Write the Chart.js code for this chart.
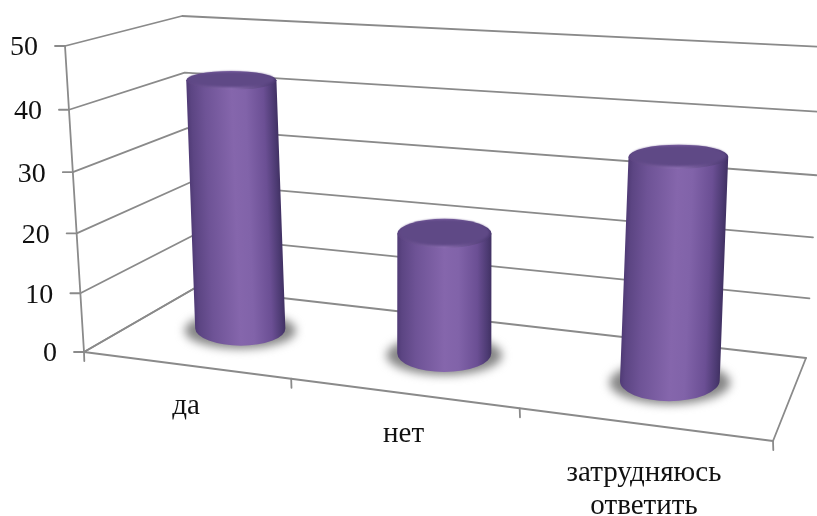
<!DOCTYPE html>
<html>
<head>
<meta charset="utf-8">
<style>
html,body{margin:0;padding:0;background:#fff;overflow:hidden}
canvas{display:block}
</style>
<script src="https://cdn.jsdelivr.net/npm/chart.js@4/dist/chart.umd.min.js"></script>
</head>
<body>
<canvas id="chart" width="817" height="516"></canvas>
<script>
// Survey answers
const categories = ['да', 'нет', ['затрудняюсь', 'ответить']];
const answers = [42.5, 20, 35];
const valueTicks = [0, 10, 20, 30, 40, 50];

// Corners of the 3D plot box on screen: F/B front/back, B/T bottom/top, L/R left/right
const BOX = {
  FBL: [84, 352], FBR: [773, 441], BBL: [195, 288], BBR: [806, 358],
  FTL: [65, 46],  FTR: [793, 80],  BTL: [182, 16],  BTR: [824, 47]
};
const WIDTH_PERSPECTIVE = 0.86;
const HEIGHT_PERSPECTIVE = 0.95;
const DEPTH_PERSPECTIVE = 1.22;
const BAR_DEPTH = 0.26;
const AXIS_COLOR = '#8a8a8a';
const AXIS_WIDTH = 1.8;
const FONT = '"Liberation Serif", "Times New Roman", serif';

const mix = (a, b, t) => [a[0] + (b[0] - a[0]) * t, a[1] + (b[1] - a[1]) * t];
const foreshorten = (s, k) => k * s / ((1 - s) + k * s);

// u: across the categories, v: up the value axis, w: from front to back, all 0..1
function project(u, v, w) {
  const tu = foreshorten(u, WIDTH_PERSPECTIVE);
  const tw = foreshorten(w, DEPTH_PERSPECTIVE);
  const tv = foreshorten(v, HEIGHT_PERSPECTIVE);
  const low = mix(mix(BOX.FBL, BOX.FBR, tu), mix(BOX.BBL, BOX.BBR, tu), tw);
  const high = mix(mix(BOX.FTL, BOX.FTR, tu), mix(BOX.BTL, BOX.BTR, tu), tw);
  return mix(low, high, tv);
}

function stroke(ctx, pts, width) {
  ctx.beginPath();
  pts.forEach((p, i) => i ? ctx.lineTo(p[0], p[1]) : ctx.moveTo(p[0], p[1]));
  ctx.lineWidth = width;
  ctx.stroke();
}

const box3d = {
  id: 'box3d',
  beforeDatasetsDraw(chart) {
    const { ctx, scales: { x, y } } = chart;
    const vOf = t => (y.bottom - y.getPixelForValue(t)) / (y.bottom - y.top);
    ctx.save();
    ctx.strokeStyle = AXIS_COLOR;
    ctx.lineCap = 'round';
    ctx.lineJoin = 'round';
    // Gridlines run along the side wall and then along the back wall
    y.ticks.forEach(t => {
      const v = vOf(t.value);
      const a = project(0, v, 0);
      stroke(ctx, [[a[0] - 10, a[1]], a, project(0, v, 1), project(1, v, 1)], AXIS_WIDTH);
    });
    stroke(ctx, [project(0, 0, 0), project(0, 1, 0)], AXIS_WIDTH);
    // Floor outline
    stroke(ctx, [project(0, 0, 1), project(0, 0, 0), project(1, 0, 0), project(1, 0, 1)], AXIS_WIDTH);
    // Category separators
    const n = x.getLabels().length;
    for (let i = 0; i <= n; i++) {
      const p = project(i / n, 0, 0);
      stroke(ctx, [p, [p[0] + 0.3, p[1] + 9]], AXIS_WIDTH);
    }
    ctx.restore();
  },
  afterDatasetsDraw(chart) {
    const { ctx, chartArea: area, scales: { x, y } } = chart;
    const bars = chart.getDatasetMeta(0).data;
    const shapes = bars.map(bar => {
      const u = (bar.x - area.left) / area.width;
      const half = bar.width / 2 / area.width;
      const v = (y.bottom - bar.y) / (y.bottom - y.top);
      const size = vv => {
        const l = project(u - half, vv, 0.5), r = project(u + half, vv, 0.5);
        const f = project(u, vv, 0.5 - BAR_DEPTH), b = project(u, vv, 0.5 + BAR_DEPTH);
        // Cylinder radius grows more slowly across the plot than the floor does
        return { c: [(l[0] + r[0]) / 2, (l[1] + r[1]) / 2], rx: (r[0] - l[0]) / 4 + 23.25, ry: (f[1] - b[1]) / 2 };
      };
      return { low: size(0), high: size(v) };
    });
    shapes.forEach(s => drawShadow(ctx, s));
    shapes.forEach(s => drawCylinder(ctx, s));
    drawLabels(ctx, x, y);
  }
};

function drawShadow(ctx, { low }) {
  ctx.save();
  ctx.filter = 'blur(5px)';
  ctx.fillStyle = '#858585';
  ctx.beginPath();
  ctx.ellipse(low.c[0], low.c[1] + 2, low.rx + 11, low.ry + 1, 0, 0, Math.PI * 2);
  ctx.fill();
  ctx.restore();
}

function drawCylinder(ctx, { low, high }) {
  const rx = (low.rx + high.rx) / 2;
  const shear = (high.c[0] - low.c[0]) / (high.c[1] - low.c[1]);
  ctx.save();
  // Shear so the shading follows the lean of the cylinder
  ctx.transform(1, 0, shear, 1, -shear * low.c[1], 0);
  const cx = low.c[0];
  const body = ctx.createLinearGradient(cx - rx, 0, cx + rx, 0);
  body.addColorStop(0, '#503b76');
  body.addColorStop(0.05, '#5c4583');
  body.addColorStop(0.2, '#6e5396');
  body.addColorStop(0.5, '#8566ac');
  body.addColorStop(0.65, '#8163a9');
  body.addColorStop(0.85, '#6b4f94');
  body.addColorStop(0.96, '#4c3a72');
  body.addColorStop(1, '#413163');
  ctx.fillStyle = body;
  ctx.beginPath();
  ctx.moveTo(cx - rx, high.c[1]);
  ctx.lineTo(cx - rx, low.c[1]);
  ctx.ellipse(cx, low.c[1], rx, low.ry, 0, Math.PI, 0, true);
  ctx.lineTo(cx + rx, high.c[1]);
  ctx.closePath();
  ctx.fill();

  // Top face: lighter bevelled rim round a darker disc
  const tx = cx, ty = high.c[1];
  const rim = ctx.createLinearGradient(tx - rx, 0, tx + rx, 0);
  rim.addColorStop(0, '#5a4380');
  rim.addColorStop(0.5, '#8a6cb0');
  rim.addColorStop(1, '#4a3870');
  ctx.fillStyle = rim;
  ctx.beginPath();
  ctx.ellipse(tx, ty, rx, high.ry, 0, 0, Math.PI * 2);
  ctx.fill();
  ctx.save();
  ctx.filter = 'blur(1px)';
  ctx.fillStyle = '#5f4986';
  ctx.beginPath();
  ctx.ellipse(tx, ty - 1, rx - 2, high.ry - 1.5, 0, 0, Math.PI * 2);
  ctx.fill();
  ctx.restore();
  ctx.restore();
}

function drawLabels(ctx, x, y) {
  ctx.save();
  ctx.fillStyle = '#111';
  ctx.font = '28px ' + FONT;
  ctx.textAlign = 'right';
  ctx.textBaseline = 'middle';
  y.ticks.forEach(t => {
    const v = (y.bottom - y.getPixelForValue(t.value)) / (y.bottom - y.top);
    const a = project(0, v, 0);
    ctx.fillText(String(t.value), a[0] - 27, a[1] + 2);
  });
  ctx.font = '29px ' + FONT;
  ctx.textAlign = 'center';
  ctx.textBaseline = 'alphabetic';
  const n = x.getLabels().length;
  x.getLabels().forEach((label, i) => {
    const p = project((i + 0.5) / n, 0, 0);
    const lines = Array.isArray(label) ? label : [label];
    // Two-line labels hang a little lower than single-line ones
    const drop = lines.length > 1 ? 57 : 49;
    lines.forEach((line, k) => ctx.fillText(line, p[0] + 1, p[1] + drop + k * 33));
  });
  ctx.restore();
}

new Chart(document.getElementById('chart'), {
  type: 'bar',
  data: {
    labels: categories,
    datasets: [{
      data: answers,
      backgroundColor: 'rgba(0,0,0,0)',
      borderWidth: 0,
      barPercentage: 0.44,
      categoryPercentage: 1
    }]
  },
  options: {
    responsive: false,
    animation: false,
    layout: { padding: 0 },
    plugins: { legend: { display: false }, tooltip: { enabled: false } },
    scales: {
      x: { display: false, ticks: { autoSkip: false } },
      y: {
        display: false,
        min: 0,
        max: 50,
        afterBuildTicks(axis) { axis.ticks = valueTicks.map(value => ({ value })); }
      }
    }
  },
  plugins: [box3d]
});
</script>
</body>
</html>
